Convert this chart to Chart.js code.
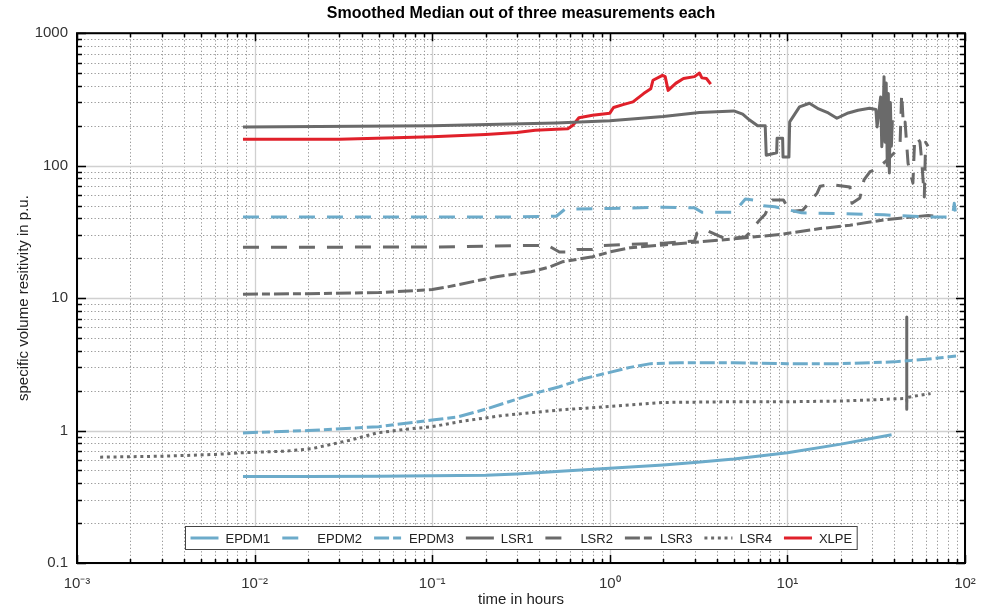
<!DOCTYPE html>
<html>
<head>
<meta charset="utf-8">
<script src="https://cdn.jsdelivr.net/npm/chart.js@4.4.1/dist/chart.umd.min.js"></script>
<style>
  html, body { margin: 0; padding: 0; background: #fff; }
  #wrap { width: 992px; height: 609px; }
</style>
</head>
<body>
<div id="wrap"><canvas id="chart"></canvas></div>
<script>
// axis ticks
const xTicks = [0.001, 0.01, 0.1, 1, 10, 100];
const xTickLabels = ['10⁻³', '10⁻²', '10⁻¹', '10⁰', '10¹', '10²'];
const yTicks = [0.1, 1, 10, 100, 1000];
const yTickLabels = ['0.1', '1', '10', '100', '1000'];

// series (time in hours, resistivity in p.u.)
const epdm1T = [0.0086, 0.02, 0.05, 0.1, 0.2, 0.3, 0.5, 1, 2, 3, 5, 10, 20, 38.6];
const epdm1V = [0.45, 0.45, 0.452, 0.455, 0.46, 0.47, 0.49, 0.52, 0.55, 0.575, 0.61, 0.68, 0.79, 0.93];

const epdm2T = [0.0086, 0.1, 0.3, 0.5, 0.56, 1, 2, 3, 3.3, 5, 5.8, 6.5, 7.2, 8.5, 12, 20, 35, 60, 85, 87, 89];
const epdm2V = [41, 41, 41, 41.5, 47, 47.5, 48.5, 48, 44.5, 44.5, 56, 55, 50, 49, 44, 43.5, 42.5, 41, 41, 52, 41];

const epdm3T = [0.0086, 0.02, 0.05, 0.1, 0.14, 0.2, 0.27, 0.4, 0.52, 0.7, 1, 1.3, 1.7, 2.5, 5, 10, 20, 40, 60, 89];
const epdm3V = [0.96, 1.0, 1.07, 1.2, 1.27, 1.45, 1.65, 1.95, 2.14, 2.45, 2.75, 3.0, 3.2, 3.25, 3.25, 3.2, 3.2, 3.3, 3.45, 3.65];

const lsr1T = [0.0086, 0.1, 0.5, 1, 2, 3.2, 5.0, 5.6, 6.1, 6.8, 7.5, 7.6, 8.7, 8.75, 9.4, 9.45, 10.2, 10.3, 11, 11.7, 13.3, 15, 17, 19, 22, 25, 29, 31.5, 32, 33.5, 34, 34.5, 35, 35.5, 36, 36.5, 37, 37.5, 38, 38.5, 39];
const lsr1V = [196, 200, 210, 218, 235, 252, 259, 245, 222, 200, 200, 120, 125, 161, 161, 116, 116, 214, 245, 278, 296, 268, 250, 228, 250, 262, 271, 265, 196, 330, 139, 200, 470, 150, 420, 100, 350, 88, 300, 140, 220];

const lsr2T = [0.0086, 0.1, 0.3, 0.45, 0.52, 0.62, 0.66, 0.8, 0.9, 1.3, 2, 3.0, 3.1, 3.4, 4.5, 5.8, 6.1, 6.4, 7.0, 7.5, 8.0, 8.2, 9.5, 10.35, 12.2, 14.7, 15.3, 17.4, 22.5, 23.1, 25.6, 27, 29.2, 32, 36.4, 40, 43.1, 44, 45, 46, 47.8, 50.9, 52, 53.7, 55.8, 57, 59, 60, 61.9];
const lsr2V = [24.2, 24.3, 24.9, 24.9, 22.3, 22.3, 23.3, 23.3, 24.9, 25.5, 26, 27, 31, 33, 28, 29, 31, 34, 39, 43, 52, 55, 55, 45, 46, 62, 70, 72, 69, 52, 57, 78, 90, 95, 110, 125, 148, 350, 200, 213, 104, 74, 150, 165, 150, 110, 58, 150, 140];

const lsr3T = [0.0086, 0.02, 0.05, 0.1, 0.12, 0.23, 0.36, 0.46, 0.54, 0.8, 1.0, 1.3, 2, 3.2, 5, 9.4, 15.3, 22.5, 35, 50, 62, 68];
const lsr3V = [10.7, 10.8, 11.0, 11.6, 12.1, 14.5, 15.8, 17.2, 18.8, 20.5, 22.3, 24, 25.2, 26.6, 28, 30.4, 33.5, 35.5, 39, 41, 42, 41.5];

const lsr4T = [0.00135, 0.003, 0.006, 0.0086, 0.015, 0.021, 0.035, 0.049, 0.07, 0.1, 0.15, 0.25, 0.52, 1, 2, 5, 10, 20, 35, 46.9, 47, 47, 47, 47, 47, 47.1, 55, 64];
const lsr4V = [0.63, 0.64, 0.66, 0.68, 0.70, 0.73, 0.85, 0.96, 1.02, 1.07, 1.18, 1.3, 1.43, 1.52, 1.63, 1.65, 1.65, 1.67, 1.72, 1.75, 1.45, 7.2, 1.45, 7.2, 1.5, 1.78, 1.84, 1.9];

const xlpeT = [0.0086, 0.03, 0.1, 0.2, 0.3, 0.38, 0.5, 0.58, 0.62, 0.67, 0.8, 1.0, 1.05, 1.2, 1.35, 1.55, 1.7, 1.75, 1.98, 2.05, 2.13, 2.35, 2.6, 3.0, 3.2, 3.3, 3.5, 3.7];
const xlpeV = [158, 158, 165, 172, 178, 185, 188, 190, 202, 230, 240, 249, 275, 290, 303, 350, 380, 441, 481, 470, 370, 418, 455, 470, 500, 460, 455, 412];

const BLUE = '#6cabca';
const GRAY = '#6a6a6a';
const RED = '#e0202a';
const FONT = '"Liberation Sans", Arial, Helvetica, sans-serif';

function pts(ts, vs) {
  return ts.map((t, i) => ({ x: t, y: vs[i] }));
}

function series(label, ts, vs, color, dash) {
  return {
    label,
    data: pts(ts, vs),
    borderColor: color,
    backgroundColor: color,
    borderWidth: 3,
    borderDash: dash,
    borderCapStyle: 'butt',
    borderJoinStyle: 'round',
    pointRadius: 0,
    tension: 0,
    fill: false
  };
}

const DASH = [16, 12];
const DASHDOT = [15, 4, 8, 4];
const DOT = [3, 3.7];

const datasets = [
  series('EPDM1', epdm1T, epdm1V, BLUE, []),
  series('EPDM2', epdm2T, epdm2V, BLUE, DASH),
  series('EPDM3', epdm3T, epdm3V, BLUE, DASHDOT),
  series('LSR1', lsr1T, lsr1V, GRAY, []),
  series('LSR2', lsr2T, lsr2V, GRAY, DASH),
  series('LSR3', lsr3T, lsr3V, GRAY, DASHDOT),
  series('LSR4', lsr4T, lsr4V, GRAY, DOT),
  series('XLPE', xlpeT, xlpeV, RED, [])
];

// 2..9 multiples inside each decade
function minorValues(decades) {
  const out = [];
  for (let i = 0; i < decades.length - 1; i++) {
    for (let k = 2; k <= 9; k++) out.push(decades[i] * k);
  }
  return out;
}

// MATLAB-like frame: dotted minor grid, solid major grid, boxed axes with inward ticks, legend
const framePlugin = {
  id: 'frame',
  beforeDatasetsDraw(chart) {
    const { ctx, chartArea: a, scales: { x, y } } = chart;
    ctx.save();
    ctx.lineWidth = 1;
    ctx.strokeStyle = '#9a9a9a';
    ctx.setLineDash([1.3, 2.2]);
    ctx.beginPath();
    minorValues(xTicks).forEach(v => {
      const px = Math.round(x.getPixelForValue(v)) + 0.5;
      ctx.moveTo(px, a.top); ctx.lineTo(px, a.bottom);
    });
    minorValues(yTicks).forEach(v => {
      const py = Math.round(y.getPixelForValue(v)) + 0.5;
      ctx.moveTo(a.left, py); ctx.lineTo(a.right, py);
    });
    ctx.stroke();
    ctx.setLineDash([]);
    ctx.strokeStyle = '#d0d0d0';
    ctx.lineWidth = 1.3;
    ctx.beginPath();
    xTicks.forEach(v => {
      const px = Math.round(x.getPixelForValue(v)) + 0.5;
      ctx.moveTo(px, a.top); ctx.lineTo(px, a.bottom);
    });
    yTicks.forEach(v => {
      const py = Math.round(y.getPixelForValue(v)) + 0.5;
      ctx.moveTo(a.left, py); ctx.lineTo(a.right, py);
    });
    ctx.stroke();
    ctx.restore();
  },
  afterDatasetsDraw(chart) {
    const { ctx, chartArea: a, scales: { x, y } } = chart;
    ctx.save();
    ctx.strokeStyle = '#000';
    ctx.lineWidth = 1.5;
    ctx.beginPath();
    const tick = (vals, len) => {
      vals.forEach(v => {
        const px = Math.round(x.getPixelForValue(v)) + 0.5;
        ctx.moveTo(px, a.bottom); ctx.lineTo(px, a.bottom - len);
        ctx.moveTo(px, a.top); ctx.lineTo(px, a.top + len);
      });
    };
    const ytick = (vals, len) => {
      vals.forEach(v => {
        const py = Math.round(y.getPixelForValue(v)) + 0.5;
        ctx.moveTo(a.left, py); ctx.lineTo(a.left + len, py);
        ctx.moveTo(a.right, py); ctx.lineTo(a.right - len, py);
      });
    };
    tick(xTicks, 8); tick(minorValues(xTicks), 4);
    ytick(yTicks, 9); ytick(minorValues(yTicks), 5);
    ctx.stroke();
    ctx.lineWidth = 2;
    ctx.strokeRect(a.left, a.top, a.right - a.left, a.bottom - a.top);

    // legend box
    ctx.font = '13px ' + FONT;
    const sample = 28, gapText = 7, gapItem = 12, pad = 5;
    const sets = chart.data.datasets;
    let total = 0;
    sets.forEach((ds, i) => {
      total += sample + gapText + ctx.measureText(ds.label).width + (i < sets.length - 1 ? gapItem : 0);
    });
    const boxW = total + pad * 2, boxH = 23;
    const boxX = Math.round((a.left + a.right) / 2 - boxW / 2) + 0.5;
    const boxY = Math.round(a.bottom - 14 - boxH) + 0.5;
    ctx.fillStyle = '#fff';
    ctx.fillRect(boxX, boxY, boxW, boxH);
    ctx.strokeStyle = '#444';
    ctx.lineWidth = 1;
    ctx.strokeRect(boxX, boxY, boxW, boxH);
    let cx = boxX + pad;
    const cy = boxY + boxH / 2;
    ctx.textBaseline = 'middle';
    ctx.textAlign = 'left';
    sets.forEach(ds => {
      ctx.strokeStyle = ds.borderColor;
      ctx.lineWidth = ds.borderWidth;
      ctx.setLineDash(ds.borderDash || []);
      ctx.lineDashOffset = 0;
      ctx.beginPath();
      ctx.moveTo(cx, cy); ctx.lineTo(cx + sample, cy);
      ctx.stroke();
      ctx.setLineDash([]);
      ctx.fillStyle = '#222';
      ctx.fillText(ds.label, cx + sample + gapText, cy + 1);
      cx += sample + gapText + ctx.measureText(ds.label).width + gapItem;
    });
    ctx.restore();
  }
};

Chart.defaults.font.family = FONT;
Chart.defaults.color = '#333';

new Chart(document.getElementById('chart'), {
  type: 'line',
  data: { datasets },
  options: {
    responsive: true,
    maintainAspectRatio: false,
    animation: false,
    devicePixelRatio: 1,
    layout: { padding: { left: 0, right: 27, top: 0, bottom: 0 } },
    plugins: {
      legend: { display: false },
      tooltip: { enabled: false },
      title: {
        display: true,
        fullSize: false,
        text: 'Smoothed Median out of three measurements each',
        color: '#000',
        font: { size: 16, weight: 'bold', lineHeight: 1.2 },
        padding: { top: 4, bottom: 10 }
      }
    },
    scales: {
      x: {
        type: 'logarithmic',
        min: 0.001,
        max: 100,
        afterBuildTicks: s => { s.ticks = xTicks.map(v => ({ value: v })); },
        afterFit: s => { s.height = 46; },
        grid: { display: false, drawTicks: false },
        border: { display: false },
        ticks: {
          autoSkip: false,
          maxRotation: 0,
          padding: 12,
          font: { size: 15 },
          callback: (v) => { const i = xTicks.indexOf(v); return i >= 0 ? xTickLabels[i] : ''; }
        },
        title: {
          display: true,
          text: 'time in hours',
          color: '#222',
          font: { size: 15 },
          padding: { top: 0, bottom: 0 }
        }
      },
      y: {
        type: 'logarithmic',
        min: 0.1,
        max: 1000,
        afterBuildTicks: s => { s.ticks = yTicks.map(v => ({ value: v })); },
        afterFit: s => { s.width = 77; },
        grid: { display: false, drawTicks: false },
        border: { display: false },
        ticks: {
          autoSkip: false,
          padding: 9,
          font: { size: 15 },
          callback: (v) => { const i = yTicks.indexOf(v); return i >= 0 ? yTickLabels[i] : ''; }
        },
        title: {
          display: true,
          text: 'specific volume resitivity in p.u.',
          color: '#222',
          font: { size: 15 },
          padding: { top: 15, bottom: 0 }
        }
      }
    }
  },
  plugins: [framePlugin]
});
</script>
</body>
</html>
